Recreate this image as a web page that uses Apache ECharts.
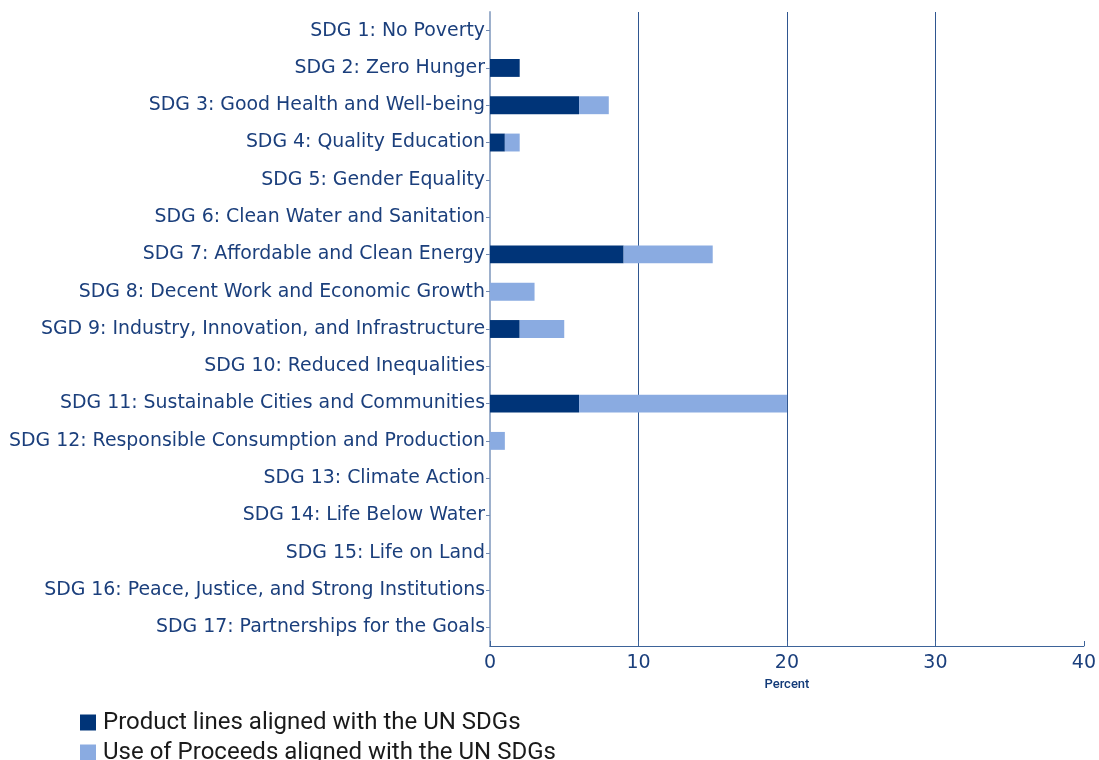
<!DOCTYPE html>
<html><head><meta charset="utf-8">
<script src="https://cdn.jsdelivr.net/npm/echarts@6/dist/echarts.min.js"></script>
<style>html,body{margin:0;padding:0;background:#fff}#c{width:1099px;height:760px}</style>
</head><body><div id="c"></div>
<script>
const categories = [
  "SDG 1: No Poverty",
  "SDG 2: Zero Hunger",
  "SDG 3: Good Health and Well-being",
  "SDG 4: Quality Education",
  "SDG 5: Gender Equality",
  "SDG 6: Clean Water and Sanitation",
  "SDG 7: Affordable and Clean Energy",
  "SDG 8: Decent Work and Economic Growth",
  "SGD 9: Industry, Innovation, and Infrastructure",
  "SDG 10: Reduced Inequalities",
  "SDG 11: Sustainable Cities and Communities",
  "SDG 12: Responsible Consumption and Production",
  "SDG 13: Climate Action",
  "SDG 14: Life Below Water",
  "SDG 15: Life on Land",
  "SDG 16: Peace, Justice, and Strong Institutions",
  "SDG 17: Partnerships for the Goals"
];
const productLines = [0, 2, 6, 1, 0, 0, 9, 0, 2, 0, 6, 0, 0, 0, 0, 0, 0];
const useOfProceeds = [0, 0, 2, 1, 0, 0, 6, 3, 3, 0, 14, 1, 0, 0, 0, 0, 0];
const seriesNames = ["Product lines aligned with the UN SDGs", "Use of Proceeds aligned with the UN SDGs"];
const xTicks = [0, 10, 20, 30, 40];

const legendText = { fontFamily: 'Roboto', fontSize: 24, color: '#1a1a1a', lineHeight: 24, padding: [0, 0, 5, 2] };
const chart = echarts.init(document.getElementById('c'));
chart.setOption({
  animation: false,
  grid: { left: 490, right: 14, top: 12, bottom: 114, containLabel: false },
  legend: [
    { left: 75, top: 703, itemWidth: 16, itemHeight: 16, icon: 'rect', itemGap: 0,
      textStyle: legendText, data: [seriesNames[0]] },
    { left: 75, top: 733, itemWidth: 16, itemHeight: 16, icon: 'rect', itemGap: 0,
      textStyle: legendText, data: [seriesNames[1]] }
  ],
  xAxis: {
    type: 'value', min: xTicks[0], max: xTicks[xTicks.length-1], interval: 10,
    name: 'Percent', nameLocation: 'middle', nameGap: 29,
    nameTextStyle: { fontFamily: 'Roboto', fontSize: 13, color: '#123a78', fontWeight: 500 },
    axisLine: { show: true, lineStyle: { color: '#3d6399', width: 1 } },
    axisTick: { show: true, inside: true, length: 5, lineStyle: { color: '#3d6399' } },
    axisLabel: { fontFamily: 'DejaVu Sans', fontSize: 19, color: '#1b3f7c', margin: 8 },
    splitLine: { show: true, showMinLine: false, showMaxLine: false, lineStyle: { color: '#2f5690', width: 1 } }
  },
  yAxis: {
    type: 'category', data: categories, inverse: true,
    axisLine: { show: true, lineStyle: { color: '#9db0cc', width: 2 } },
    axisTick: { show: true, length: 4, alignWithLabel: true, lineStyle: { color: '#6f88b0' } },
    axisLabel: { fontFamily: 'DejaVu Sans', fontSize: 18.9, color: '#1b3f7c', margin: 5, interval: 0 }
  },
  series: [
    { name: seriesNames[0], type: 'bar', stack: 'a', data: productLines, barWidth: '48%',
      itemStyle: { color: '#003478' } },
    { name: seriesNames[1], type: 'bar', stack: 'a', data: useOfProceeds, barWidth: '48%',
      itemStyle: { color: '#8aabe1' } }
  ]
});
</script></body></html>
